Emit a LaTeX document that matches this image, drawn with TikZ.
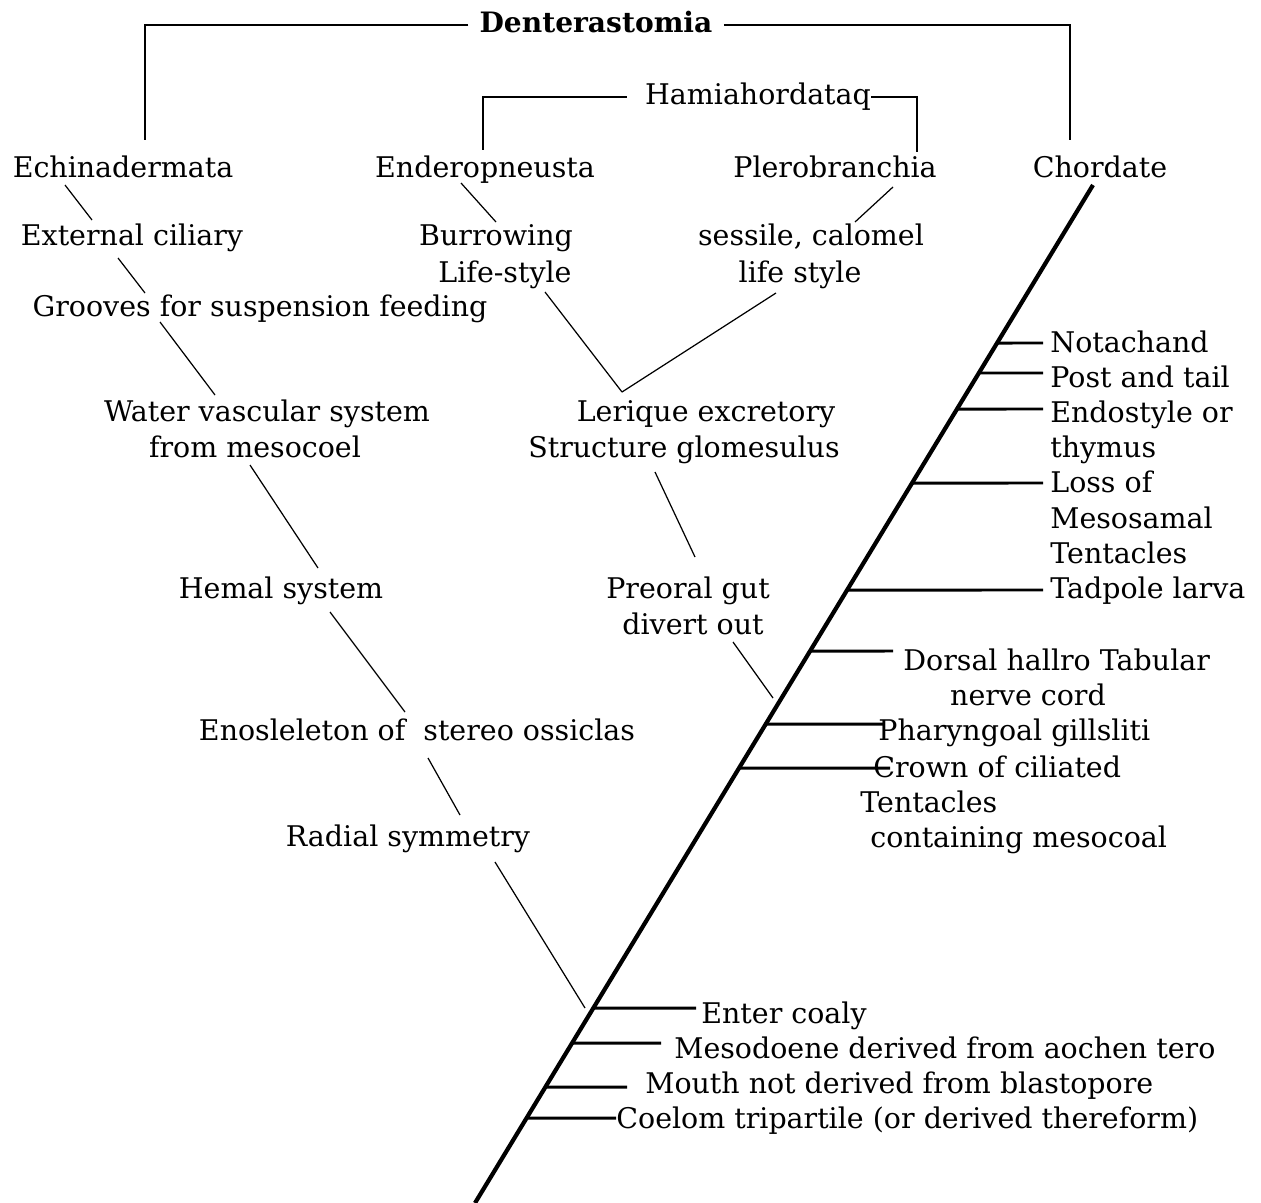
\documentclass[tikz,border=0pt]{standalone}
\usepackage{fontspec}
\setmainfont{DejaVu Serif}
\usetikzlibrary{calc}
\usetikzlibrary{positioning}

\tikzset{
    lab/.style={font=\fontsize{16.2}{20}\selectfont, inner sep=0pt, anchor=base},
    labw/.style={lab, anchor=base west},
    title/.style={lab, font=\fontsize{16}{20}\selectfont\bfseries},
    bracket/.style={line width=0.85pt},
    twig/.style={line width=0.7pt},
    tick/.style={line width=1.7pt},
    stem/.style={line width=2.4pt}
}

\begin{document}
\begin{tikzpicture}[x=0.02cm,y=-0.02cm]
    \useasboundingbox (0,0) rectangle (1261,1203);

    % taxa
    \node[title] (dent) at (596,33) {Denterastomia};
    \node[lab] (ham) at (758,105) {Hamiahordataq};
    \node[lab] (ech) at (123,177) {Echinadermata};
    \node[lab] (end) at (485,177) {Enderopneusta};
    \node[lab] (ple) at (835,177) {Plerobranchia};
    \node[lab] (cho) at (1100,177) {Chordate};

    % brackets
    \coordinate (echtop) at (145,140);
    \coordinate (chotop) at (1070,140);
    \coordinate (endtop) at (483,150);
    \coordinate (pletop) at (917,152);
    \draw[bracket] (dent.base west) ++(-11,-8) -| (echtop);
    \draw[bracket] (dent.base east) ++(11,-8) -| (chotop);
    \draw[bracket] (ham.base west) ++(-18,-8) -| (endtop);
    \draw[bracket] (ham.base east) ++(0,-8) -| (pletop);

    % left branch
    \node[lab] (ext) at (132,245) {External ciliary};
    \node[lab] (gro) at (260,316) {Grooves for suspension feeding};
    \node[lab] (wat1) at (267,421) {Water vascular system};
    \node[lab] (wat2) at (255,457) {from mesocoel};
    \node[lab] (hem) at (281,598) {Hemal system};
    \node[lab] (eno) at (417,740) {Enosleleton of\ \ stereo ossiclas};
    \node[lab] (rad) at (408,846) {Radial symmetry};

    % middle branch
    \node[lab] (bur) at (496,245) {Burrowing};
    \node[lab] (lif1) at (505,282) {Life-style};
    \node[lab] (ses) at (811,245) {sessile, calomel};
    \node[lab] (lif2) at (800,282) {life style};
    \node[lab] (ler1) at (706,421) {Lerique excretory};
    \node[lab] (ler2) at (684,457) {Structure glomesulus};
    \node[lab] (pre1) at (688,598) {Preoral gut};
    \node[lab] (pre2) at (693,634) {divert out};

    % chordate characters
    \node[labw] (not) at (1050,352) {Notachand};
    \node[labw] (pos) at (1050,387) {Post and tail};
    \node[labw] (endo1) at (1050,422) {Endostyle or};
    \node[labw] (endo2) at (1050,457) {thymus};
    \node[labw] (los1) at (1050,492) {Loss of};
    \node[labw] (los2) at (1050,528) {Mesosamal};
    \node[labw] (los3) at (1050,563) {Tentacles};
    \node[labw] (tad) at (1050,598) {Tadpole larva};
    \node[labw] (dor1) at (903,670) {Dorsal hallro Tabular};
    \node[lab] (dor2) at (1028,705) {nerve cord};
    \node[labw] (pha) at (878,740) {Pharyngoal gillsliti};
    \node[labw] (cro1) at (873,777) {Crown of ciliated};
    \node[labw] (cro2) at (860,812) {Tentacles};
    \node[labw] (cro3) at (870,847) {containing mesocoal};

    % deuterostome characters
    \node[labw] (ent) at (701,1023) {Enter coaly};
    \node[labw] (mes) at (674,1058) {Mesodoene derived from aochen tero};
    \node[labw] (mou) at (645,1093) {Mouth not derived from blastopore};
    \node[labw] (coe) at (616,1128) {Coelom tripartile (or derived thereform)};

    % main stem
    \coordinate (ctop) at (1093,185);
    \coordinate (cbot) at (475,1203);
    \coordinate (jun) at (622,392);
    \draw[stem] (cbot) -- (ctop);

    % twigs
    \foreach \a/\b/\c/\d in {65/185/92/220, 118/258/145/293, 160/322/215/395,
        250/465/318/568, 330/612/405/712, 428/758/460/815, 495/862/585/1008,
        461/183/496/222, 893/187/855/222, 655/472/695/557, 733/642/773/698}{
        \draw[twig] (\a,\b) -- (\c,\d);
    }
    \draw[twig] (545,292) -- (jun);
    \draw[twig] (776,293) -- (jun);

    % ticks on the stem
    \foreach \y/\xe in {343/1043, 373/1043, 409/1043, 483/1043, 590/1043,
        651/893, 724/883, 768/890, 1008/696, 1043/661, 1087/627, 1118/616}{
        \draw[tick] ($(cbot)!{(1203-\y)/1018}!(ctop)$) -- (\xe,\y);
    }
\end{tikzpicture}
\end{document}
